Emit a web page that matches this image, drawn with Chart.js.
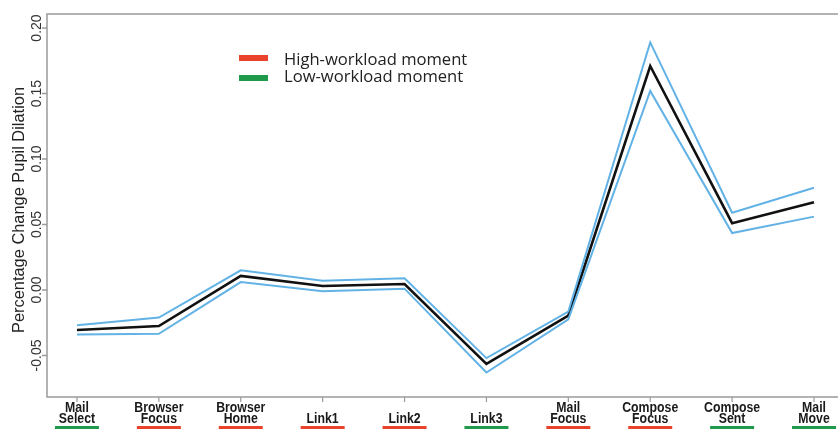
<!DOCTYPE html>
<html>
<head>
<meta charset="utf-8">
<script src="https://cdn.jsdelivr.net/npm/chart.js@4/dist/chart.umd.min.js"></script>
<style>
	body { margin: 0; background: #fff; }
	#wrap { width: 838px; height: 429px; }
</style>
</head>
<body>
<div id="wrap"><canvas id="myChart" width="838" height="429"></canvas></div>
<script>
// moments along the task, two-line tick labels
var categories = [
	['Mail', 'Select'], ['Browser', 'Focus'], ['Browser', 'Home'], ['Link1'], ['Link2'],
	['Link3'], ['Mail', 'Focus'], ['Compose', 'Focus'], ['Compose', 'Sent'], ['Mail', 'Move']
];
var workload = ['low', 'high', 'high', 'high', 'high', 'low', 'high', 'high', 'low', 'low'];

var meanChange = [-0.0305, -0.0275, 0.0107, 0.003, 0.0046, -0.0565, -0.0195, 0.171, 0.051, 0.067];
var upperBand  = [-0.027, -0.021, 0.015, 0.007, 0.009, -0.052, -0.0165, 0.189, 0.059, 0.078];
var lowerBand  = [-0.034, -0.0335, 0.006, -0.001, 0.001, -0.063, -0.0225, 0.152, 0.0435, 0.056];

var yTicks = [-0.05, 0.00, 0.05, 0.10, 0.15, 0.20];
var legendLabels = ['High-workload moment', 'Low-workload moment'];

var RED = '#e9432b';
var GREEN = '#1f9a4a';
var BLUE = '#62b2e6';
var FRAME = '#9a9a9a';

function points(arr) {
	return arr.map(function(v, i) { return { x: i, y: v }; });
}

function fitFont(ctx, text, width, family, weight) {
	var size = 20;
	ctx.font = weight + ' ' + size + 'px ' + family;
	var w = ctx.measureText(text).width;
	return Math.round(size * width / w * 10) / 10;
}

var decorPlugin = {
	id: 'decor',
	afterDraw: function(chart) {
		var ctx = chart.ctx;
		var a = chart.chartArea;
		var xs = chart.scales.x;
		var ys = chart.scales.y;
		ctx.save();

		// frame (right side runs off the picture)
		ctx.strokeStyle = FRAME;
		ctx.lineWidth = 1.5;
		ctx.beginPath();
		ctx.moveTo(838, a.top);
		ctx.lineTo(a.left, a.top);
		ctx.lineTo(a.left, a.bottom);
		ctx.lineTo(838, a.bottom);
		ctx.stroke();

		// y ticks, labels turned on their side
		ctx.fillStyle = '#333';
		ctx.font = '14px "Liberation Sans"';
		ctx.textAlign = 'center';
		ctx.textBaseline = 'middle';
		yTicks.forEach(function(t) {
			var y = ys.getPixelForValue(t);
			ctx.beginPath();
			ctx.moveTo(a.left, y);
			ctx.lineTo(a.left - 5, y);
			ctx.stroke();
			ctx.save();
			ctx.translate(37, y);
			ctx.rotate(-Math.PI / 2);
			ctx.fillText(t.toFixed(2), 0, 0);
			ctx.restore();
		});

		// y axis title
		var title = 'Percentage Change Pupil Dilation';
		ctx.save();
		ctx.translate(19, 210);
		ctx.rotate(-Math.PI / 2);
		ctx.fillStyle = '#222';
		ctx.font = fitFont(ctx, title, 246, '"Liberation Sans"', 'normal') + 'px "Liberation Sans"';
		ctx.fillText(title, 0, 0);
		ctx.restore();

		// x ticks, labels (narrowed) and workload bars
		categories.forEach(function(lines, i) {
			var x = xs.getPixelForValue(i);
			ctx.strokeStyle = FRAME;
			ctx.lineWidth = 1.2;
			ctx.beginPath();
			ctx.moveTo(x, a.bottom);
			ctx.lineTo(x, a.bottom + 5);
			ctx.stroke();
			ctx.save();
			ctx.translate(x, 0);
			ctx.scale(0.82, 1);
			ctx.fillStyle = '#1a1a1a';
			ctx.font = 'bold 15px "Liberation Sans"';
			if (lines.length === 2) {
				ctx.fillText(lines[0], 0, 408);
				ctx.fillText(lines[1], 0, 419);
			} else {
				ctx.fillText(lines[0], 0, 419);
			}
			ctx.restore();
			ctx.fillStyle = workload[i] === 'high' ? RED : GREEN;
			ctx.fillRect(x - 22, 426, 44, 3);
		});

		// legend
		ctx.textAlign = 'left';
		var lf = fitFont(ctx, legendLabels[0], 183, '"Open Sans"', 'normal');
		ctx.font = lf + 'px "Open Sans"';
		ctx.fillStyle = RED;
		ctx.fillRect(239, 55, 29, 6);
		ctx.fillStyle = GREEN;
		ctx.fillRect(239, 75, 29, 6);
		ctx.fillStyle = '#222';
		ctx.fillText(legendLabels[0], 284, 60);
		ctx.fillText(legendLabels[1], 284, 77);

		ctx.restore();
	}
};

var ctx = document.getElementById('myChart').getContext('2d');
var myChart = new Chart(ctx, {
	type: 'line',
	data: {
		datasets: [{
			label: 'upper',
			data: points(upperBand),
			borderColor: BLUE,
			borderWidth: 2,
			pointRadius: 0,
			tension: 0
		}, {
			label: 'lower',
			data: points(lowerBand),
			borderColor: BLUE,
			borderWidth: 2,
			pointRadius: 0,
			tension: 0
		}, {
			label: 'mean',
			data: points(meanChange),
			borderColor: '#111',
			borderWidth: 2.6,
			pointRadius: 0,
			tension: 0
		}]
	},
	options: {
		responsive: false,
		animation: false,
		devicePixelRatio: 1,
		layout: { padding: { left: 47, top: 14, right: 0, bottom: 32 } },
		plugins: {
			legend: { display: false },
			tooltip: { enabled: false }
		},
		scales: {
			x: { type: 'linear', min: -0.366, max: 9.293, display: false },
			y: { min: -0.0817, max: 0.2107, display: false }
		}
	},
	plugins: [decorPlugin]
});
</script>
</body>
</html>
